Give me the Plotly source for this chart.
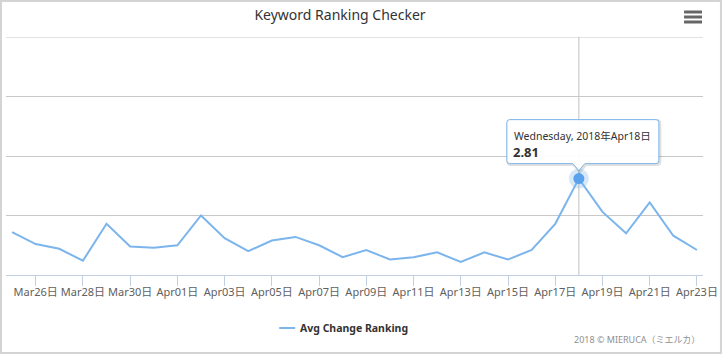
import plotly.graph_objects as go

W, H = 724, 354
ML, MR, MT, MB = 6, 19, 37, 79
PW, PH = W - ML - MR, H - MT - MB

dates = ["2018-03-25", "2018-03-26", "2018-03-27", "2018-03-28", "2018-03-29", "2018-03-30",
         "2018-03-31", "2018-04-01", "2018-04-02", "2018-04-03", "2018-04-04", "2018-04-05",
         "2018-04-06", "2018-04-07", "2018-04-08", "2018-04-09", "2018-04-10", "2018-04-11",
         "2018-04-12", "2018-04-13", "2018-04-14", "2018-04-15", "2018-04-16", "2018-04-17",
         "2018-04-18", "2018-04-19", "2018-04-20", "2018-04-21", "2018-04-22", "2018-04-23"]
avg_change = [2.36, 2.26, 2.22, 2.12, 2.43, 2.24, 2.23, 2.25, 2.50, 2.31, 2.20, 2.29,
              2.32, 2.25, 2.15, 2.21, 2.13, 2.15, 2.19, 2.11, 2.19, 2.13, 2.21, 2.43,
              2.81, 2.53, 2.35, 2.61, 2.33, 2.21]
tick_dates = dates[1::2]
tick_labels = ["Mar26日", "Mar28日", "Mar30日", "Apr01日", "Apr03日", "Apr05日", "Apr07日",
               "Apr09日", "Apr11日", "Apr13日", "Apr15日", "Apr17日", "Apr19日", "Apr21日",
               "Apr23日"]
y_min, y_max, y_step = 2, 4, 0.5
hover_idx = 24
hover_header = "Wednesday, 2018年Apr18日"
series_name = "Avg Change Ranking"
title_text = "Keyword Ranking Checker"
credits_text = "2018 © MIERUCA（ミエルカ）"

FONT = "Noto Sans, Noto Sans CJK JP, DejaVu Sans, sans-serif"
COLOR = "#7cb5ec"


def px2x(px):
    return (px - ML) / PW


def py2y(py):
    return (H - MB - py) / PH


hx, hy = dates[hover_idx], avg_change[hover_idx]

fig = go.Figure()
fig.add_trace(go.Scatter(x=dates, y=avg_change, mode="lines", name=series_name,
                         line=dict(color=COLOR, width=2), hoverinfo="skip"))
fig.add_trace(go.Scatter(x=[hx], y=[hy], mode="markers", showlegend=False, hoverinfo="skip",
                         marker=dict(size=20, color=COLOR, opacity=0.3, line=dict(width=0))))
fig.add_trace(go.Scatter(x=[hx], y=[hy], mode="markers", showlegend=False, hoverinfo="skip",
                         marker=dict(size=11, color="#5aa3ec", line=dict(width=0))))

shapes = []
# top gridline (at the range edge)
shapes.append(dict(type="line", xref="paper", yref="y", x0=0, x1=1, y0=y_max, y1=y_max,
                   line=dict(color="#C8C8C8", width=1), layer="below"))
# crosshair
shapes.append(dict(type="line", xref="x", yref="paper", x0=hx, x1=hx, y0=0, y1=1,
                   line=dict(color="#C0C0C0", width=1), layer="below"))
# tooltip
box = ("M-69,59 L77,59 Q80,59 80,56 L80,18 Q80,15 77,15 L6,15 L0,8 L-6,15 "
       "L-69,15 Q-72,15 -72,18 L-72,56 Q-72,59 -69,59 Z")
shadow = ("M-68,58 L78,58 Q81,58 81,55 L81,17 Q81,14 78,14 L7,14 L1,7 L-5,14 "
          "L-68,14 Q-71,14 -71,17 L-71,55 Q-71,58 -68,58 Z")
shapes.append(dict(type="path", xref="x", yref="y", xsizemode="pixel", ysizemode="pixel",
                   xanchor=hx, yanchor=hy, path=shadow, fillcolor="rgba(0,0,0,0)",
                   line=dict(color="rgba(0,0,0,0.12)", width=3)))
shapes.append(dict(type="path", xref="x", yref="y", xsizemode="pixel", ysizemode="pixel",
                   xanchor=hx, yanchor=hy, path=box, fillcolor="rgba(255,255,255,0.95)",
                   line=dict(color=COLOR, width=1)))
# legend symbol
shapes.append(dict(type="line", xref="paper", yref="paper", x0=px2x(280), x1=px2x(296),
                   y0=py2y(328), y1=py2y(328), line=dict(color=COLOR, width=2)))
# menu icon
for py in (12, 17, 22):
    shapes.append(dict(type="line", xref="paper", yref="paper", x0=px2x(686), x1=px2x(704),
                       y0=py2y(py), y1=py2y(py), line=dict(color="#666666", width=3)))
# chart border
shapes.append(dict(type="rect", xref="paper", yref="paper", x0=px2x(1), x1=px2x(723),
                   y0=py2y(1), y1=py2y(353), line=dict(color="#d4d4d4", width=2),
                   fillcolor="rgba(0,0,0,0)", layer="below"))

annotations = [
    dict(x=hx, y=hy, xref="x", yref="y", text=hover_header, showarrow=False,
         xanchor="left", yanchor="middle", xshift=-67, yshift=43,
         font=dict(family=FONT, size=10.5, color="#333333")),
    dict(x=hx, y=hy, xref="x", yref="y", text="<b>%.2f</b>" % hy, showarrow=False,
         xanchor="left", yanchor="middle", xshift=-68, yshift=27,
         font=dict(family=FONT, size=13, color="#333333")),
    dict(x=px2x(299), y=py2y(327.5), xref="paper", yref="paper", text="<b>%s</b>" % series_name,
         showarrow=False, xanchor="left", yanchor="middle",
         font=dict(family=FONT, size=10.5, color="#333333")),
    dict(x=px2x(704), y=py2y(339), xref="paper", yref="paper", text=credits_text,
         showarrow=False, xanchor="right", yanchor="middle",
         font=dict(family=FONT, size=9, color="#909090")),
]

fig.update_layout(
    width=W, height=H, autosize=False,
    margin=dict(l=ML, r=MR, t=MT, b=MB, pad=0),
    paper_bgcolor="white", plot_bgcolor="white",
    showlegend=False,
    title=dict(text=title_text, x=340 / W, xref="container", xanchor="center",
               y=1 - 15 / H, yref="container", yanchor="middle",
               font=dict(family=FONT, size=14, color="#333333")),
    xaxis=dict(type="date", range=["2018-03-24 17:50", "2018-04-23 06:10"],
               tickvals=tick_dates, ticktext=tick_labels, ticks="outside", ticklen=10,
               tickcolor="#C0D0E0", tickwidth=1, showline=True, linecolor="#C0D0E0",
               linewidth=1, showgrid=False, zeroline=False, ticklabelstandoff=-3,
               tickfont=dict(family=FONT, size=11, color="#606060")),
    yaxis=dict(range=[y_min, y_max], dtick=y_step, tick0=y_min, showticklabels=False,
               showgrid=True, gridcolor="#C8C8C8", gridwidth=1, zeroline=False,
               showline=False, ticks=""),
    shapes=shapes,
    annotations=annotations,
    font=dict(family=FONT),
)

fig.write_html("out.html")
